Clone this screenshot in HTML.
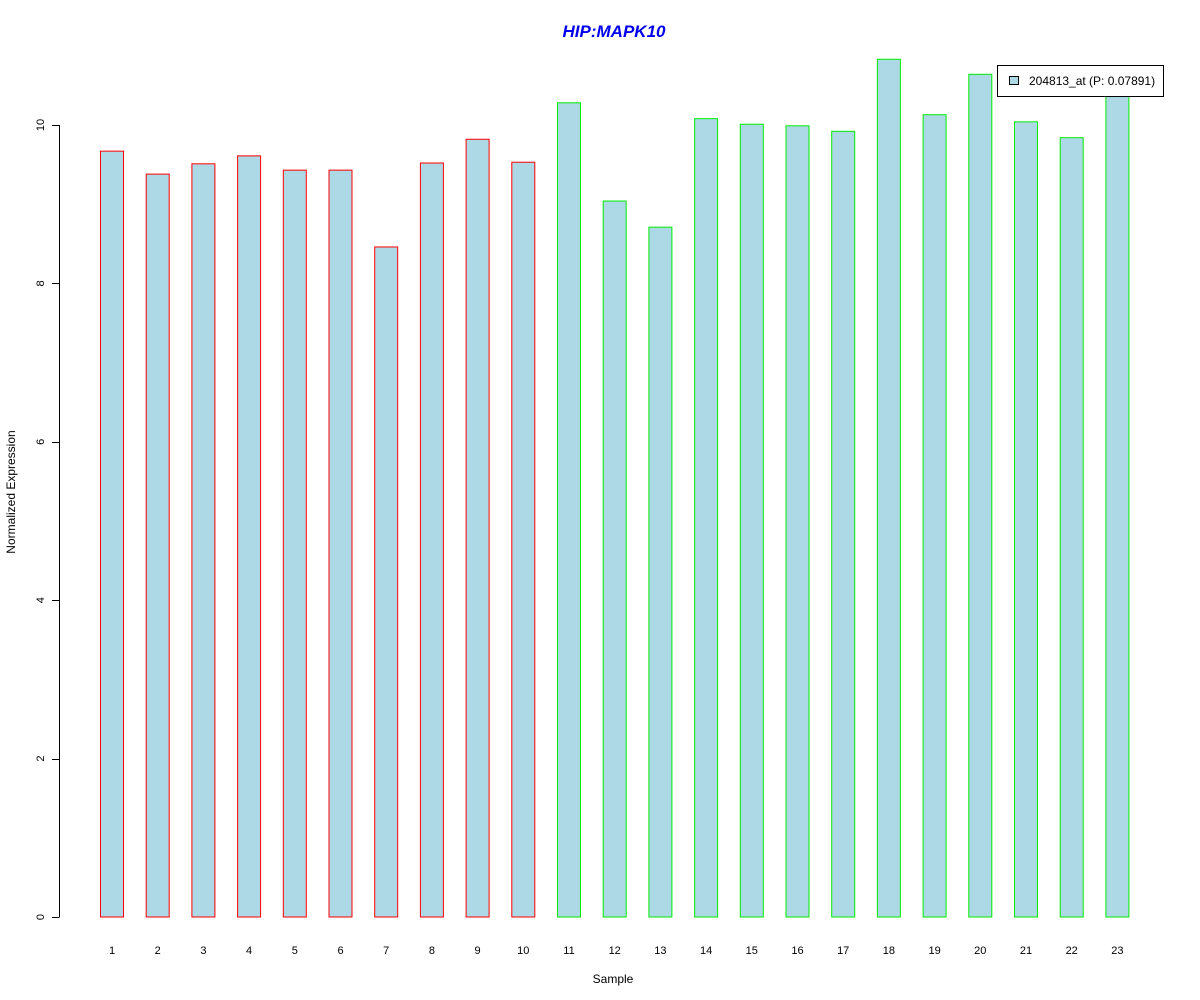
<!DOCTYPE html>
<html><head><meta charset="utf-8"><style>
body{margin:0;background:#fff;}
svg{display:block;font-family:"Liberation Sans",Arial,sans-serif;}
</style></head><body>
<svg id="chart" width="1200" height="1000">
<text x="614" y="37" text-anchor="middle" font-size="17" font-weight="bold" font-style="italic" fill="#0000ee">HIP:MAPK10</text>
<text x="613" y="983" text-anchor="middle" font-size="12">Sample</text>
<text transform="translate(15,492) rotate(-90)" text-anchor="middle" font-size="12">Normalized Expression</text>
<g id="bars"></g>
<g id="yaxis"></g>
<g id="xlabels"></g>
<g>
<rect x="997.5" y="65.5" width="166" height="31" fill="#fff" stroke="#000"/>
<rect x="1009.5" y="76.5" width="9" height="8" fill="#add8e6" stroke="#000"/>
<text x="1029" y="85" font-size="12">204813_at (P: 0.07891)</text>
</g>
</svg>
<script>
const categories = ["1","2","3","4","5","6","7","8","9","10","11","12","13","14","15","16","17","18","19","20","21","22","23"];
const values = [9.67,9.38,9.51,9.61,9.43,9.43,8.46,9.52,9.82,9.53,10.28,9.04,8.71,10.08,10.01,9.99,9.92,10.83,10.13,10.64,10.04,9.84,10.42];
const groups = ["a","a","a","a","a","a","a","a","a","a","b","b","b","b","b","b","b","b","b","b","b","b","b"];
const yTicks = [0,2,4,6,8,10];
const NS="http://www.w3.org/2000/svg";
const y0=917, yPer=79.2;
function yScale(v){return y0 - v*yPer;}
function xScale(i){return 100 + i*45.7;}
const bw=23;
const bars=document.getElementById('bars');
values.forEach((v,i)=>{
  const r=document.createElementNS(NS,'rect');
  r.setAttribute('x',xScale(i)+0.5);
  r.setAttribute('y',yScale(v));
  r.setAttribute('width',bw);
  r.setAttribute('height',y0-yScale(v));
  r.setAttribute('fill','#add8e6');
  r.setAttribute('stroke',groups[i]==='a'?'#ff0000':'#00ee00');
  
  
  bars.appendChild(r);
  const t=document.createElementNS(NS,'text');
  t.setAttribute('x',xScale(i)+bw/2+0.5);
  t.setAttribute('y',954);
  t.setAttribute('text-anchor','middle');
  t.setAttribute('font-size','11');
  t.textContent=categories[i];
  
  
  document.getElementById('xlabels').appendChild(t);
});
const ya=document.getElementById('yaxis');
const line=document.createElementNS(NS,'line');
line.setAttribute('x1',59.5);line.setAttribute('x2',59.5);
line.setAttribute('y1',yScale(yTicks[0]));line.setAttribute('y2',yScale(yTicks[yTicks.length-1]));
line.setAttribute('stroke','#000');


ya.appendChild(line);
yTicks.forEach(v=>{
  const l=document.createElementNS(NS,'line');
  l.setAttribute('x1',52);l.setAttribute('x2',59.5);
  l.setAttribute('y1',Math.round(yScale(v))+0.5);l.setAttribute('y2',Math.round(yScale(v))+0.5);
  l.setAttribute('stroke','#000');
  
  
  ya.appendChild(l);
  const t=document.createElementNS(NS,'text');
  t.setAttribute('transform','translate(44,'+yScale(v)+') rotate(-90)');
  t.setAttribute('text-anchor','middle');
  t.setAttribute('font-size','11');
  t.textContent=v;
  
  
  ya.appendChild(t);
});
</script>
</body></html>
